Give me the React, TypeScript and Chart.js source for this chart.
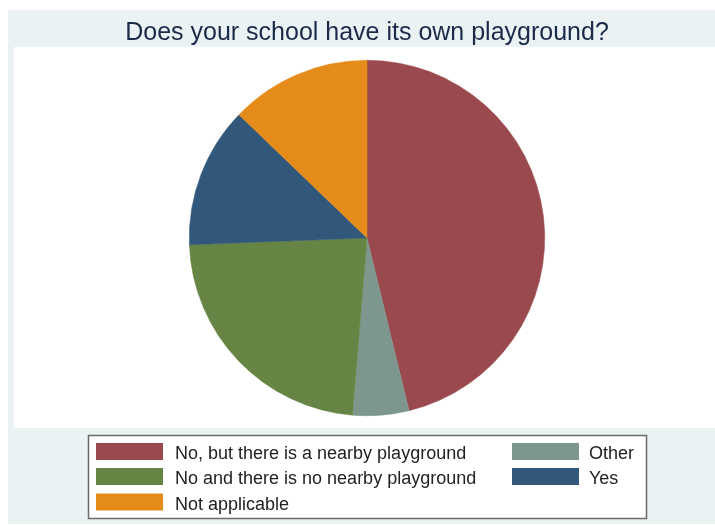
import React, { useEffect, useRef } from "react";
import { Chart, registerables } from "chart.js";

Chart.register(...registerables);

const TITLE = "Does your school have its own playground?";
const categories = [
  "No, but there is a nearby playground",
  "Other",
  "No and there is no nearby playground",
  "Yes",
  "Not applicable",
];
const shares = [46.2, 5.1, 23.1, 12.8, 12.8];
const colors = ["#9A4A4F", "#7E978E", "#668443", "#31587A", "#E58B1A"];

const FONT = "'Liberation Sans', Arial, Helvetica, sans-serif";

const framePlugin = {
  id: "stataFrame",
  beforeDraw(chart: any) {
    const ctx = chart.ctx as CanvasRenderingContext2D;
    ctx.save();
    ctx.fillStyle = "#ffffff";
    ctx.fillRect(0, 0, chart.width, chart.height);
    ctx.fillStyle = "#EAF2F3";
    ctx.fillRect(8, 10, chart.width - 8, chart.height - 11);
    ctx.fillStyle = "#ffffff";
    ctx.fillRect(14, 47, chart.width - 14, 428 - 47);
    // title
    ctx.fillStyle = "#1C2A4A";
    ctx.font = `25px ${FONT}`;
    ctx.textAlign = "center";
    ctx.textBaseline = "alphabetic";
    ctx.fillText(TITLE, 367, 40);
    ctx.restore();
  },
  afterDraw(chart: any) {
    const ctx = chart.ctx as CanvasRenderingContext2D;
    const labels: string[] = chart.data.labels;
    const bg: string[] = chart.data.datasets[0].backgroundColor;
    ctx.save();
    // legend box
    ctx.fillStyle = "#ffffff";
    ctx.fillRect(88, 435, 646 - 88, 518 - 435);
    ctx.strokeStyle = "#6A6A6A";
    ctx.lineWidth = 1.5;
    ctx.strokeRect(88.5, 435.5, 646 - 88, 518 - 435);
    const colSwatchX = [96, 512];
    const colTextX = [175, 589];
    const rowTop = [443, 468, 493.5];
    ctx.font = `18px ${FONT}`;
    ctx.textAlign = "left";
    ctx.textBaseline = "alphabetic";
    labels.forEach((lab, i) => {
      const col = i % 2;
      const row = Math.floor(i / 2);
      ctx.fillStyle = bg[i];
      ctx.fillRect(colSwatchX[col], rowTop[row], 67, 17);
      ctx.fillStyle = "#222222";
      ctx.fillText(lab, colTextX[col], rowTop[row] + 16);
    });
    ctx.restore();
  },
};

export default function App() {
  const ref = useRef<HTMLCanvasElement | null>(null);
  useEffect(() => {
    if (!ref.current) return;
    const chart = new Chart(ref.current, {
      type: "pie",
      data: {
        labels: categories,
        datasets: [
          {
            data: shares,
            backgroundColor: colors,
            borderColor: colors,
            borderWidth: 0.5,
          },
        ],
      },
      options: {
        animation: false,
        responsive: false,
        maintainAspectRatio: false,
        devicePixelRatio: 1,
        layout: { padding: { left: 189, right: 170, top: 60, bottom: 109 } },
        plugins: {
          legend: { display: false },
          title: { display: false },
          tooltip: { enabled: false },
        },
      },
      plugins: [framePlugin],
    });
    return () => chart.destroy();
  }, []);
  return (
    <div style={{ position: "absolute", left: 0, top: 0, width: 715, height: 525 }}>
      <canvas ref={ref} width={715} height={525} style={{ display: "block", width: 715, height: 525 }} />
    </div>
  );
}
